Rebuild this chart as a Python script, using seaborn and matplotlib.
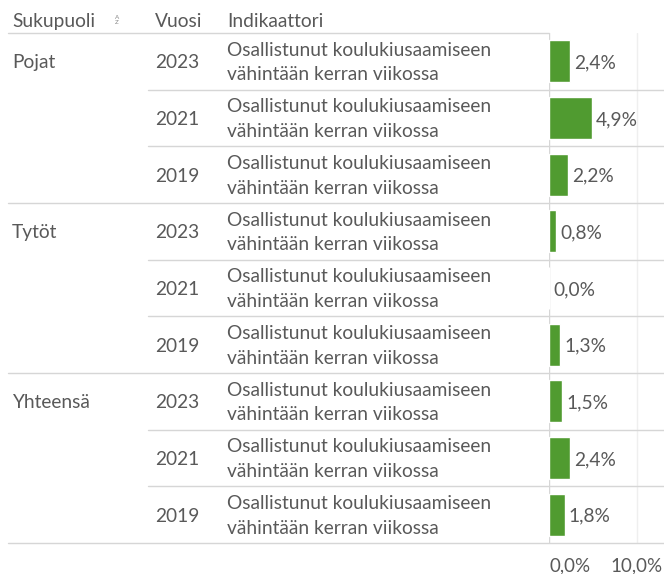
import matplotlib
matplotlib.use('Agg')
import matplotlib.pyplot as plt
import seaborn as sns
import pandas as pd

# ---- data
groups = ['Pojat', 'Tytöt', 'Yhteensä']
years = ['2023', '2021', '2019']
indicator = 'Osallistunut koulukiusaamiseen\nvähintään kerran viikossa'
values = [2.4, 4.9, 2.2,
          0.8, 0.0, 1.3,
          1.5, 2.4, 1.8]
tick_vals = [0, 10]
tick_labels = ['0,0%', '10,0%']
headers = ['Sukupuoli', 'Vuosi', 'Indikaattori']

sns.set_theme(style='white')
plt.rcParams['font.family'] = ['Lato', 'DejaVu Sans']

TXT = '#595959'
GREEN = '#509b30'
LINE = '#d6d6d6'

W, H = 664, 574
X0, XR = 549, 664       # bar axis pixel span
YT, YB = 33, 543        # table pixel span

rows = []
for g in groups:
    for y in years:
        rows.append({'group': g, 'year': y, 'row': f'{g} {y}'})
df = pd.DataFrame(rows)
df['value'] = values

fig = plt.figure(figsize=(W / 100, H / 100), dpi=100)
ax = fig.add_axes([X0 / W, (H - YB) / H, (XR - X0) / W, (YB - YT) / H])

sns.barplot(data=df, x='value', y='row', orient='h', color=GREEN,
            width=0.74, saturation=1, ax=ax, zorder=3)

xmax = 10 * (XR - X0) / (637 - X0)
ax.set_xlim(0, xmax)
ax.set_ylim(len(df) - 0.5, -0.5)
for s in ax.spines.values():
    s.set_visible(False)
ax.set_xlabel('')
ax.set_ylabel('')
ax.set_yticks([])
ax.set_xticks(tick_vals)
ax.set_xticklabels(tick_labels, color=TXT, fontsize=13.5)
ax.get_xticklabels()[0].set_horizontalalignment('left')
ax.tick_params(axis='x', length=0, pad=10)

ax.axvline(10, color='#efefef', lw=1, zorder=1)
ax.axvline(0, color=LINE, lw=1, zorder=2)


def px(x):
    return (x - X0) / (XR - X0)


tr = ax.get_yaxis_transform()
fs = 13.8

# header
hy = -0.5 - 13 / ((YB - YT) / len(df))
for label, xp in zip(headers, [12, 155, 227]):
    ax.text(px(xp), hy, label, transform=tr, ha='left', va='center_baseline',
            color=TXT, fontsize=fs, clip_on=False)
ax.text(px(117), hy, 'A\nZ', transform=tr, ha='center', va='center',
        color='#888888', fontsize=4.5, linespacing=0.9, clip_on=False)

# row texts
for i, r in df.iterrows():
    if i % 3 == 0:
        ax.text(px(12), i, r['group'], transform=tr, ha='left',
                va='center_baseline', color=TXT, fontsize=fs, clip_on=False)
    ax.text(px(155), i, r['year'], transform=tr, ha='left',
            va='center_baseline', color=TXT, fontsize=fs, clip_on=False)
    ax.text(px(227), i + 0.02, indicator, transform=tr, ha='left', va='center',
            color=TXT, fontsize=fs, linespacing=1.55, clip_on=False)
    ax.text(r['value'] + 0.45, i, f"{r['value']:.1f}%".replace('.', ','),
            ha='left', va='center_baseline', color=TXT, fontsize=fs,
            clip_on=False)

# table rules
ax.plot([px(8), 0], [-0.5, -0.5], transform=tr, color=LINE, lw=1, clip_on=False)
for k in range(1, len(df) + 1):
    y = k - 0.5
    x_start = px(8) if k % 3 == 0 else px(148)
    ax.plot([x_start, 1], [y, y], transform=tr, color=LINE, lw=1, clip_on=False)

fig.savefig('out.png', dpi=100)
